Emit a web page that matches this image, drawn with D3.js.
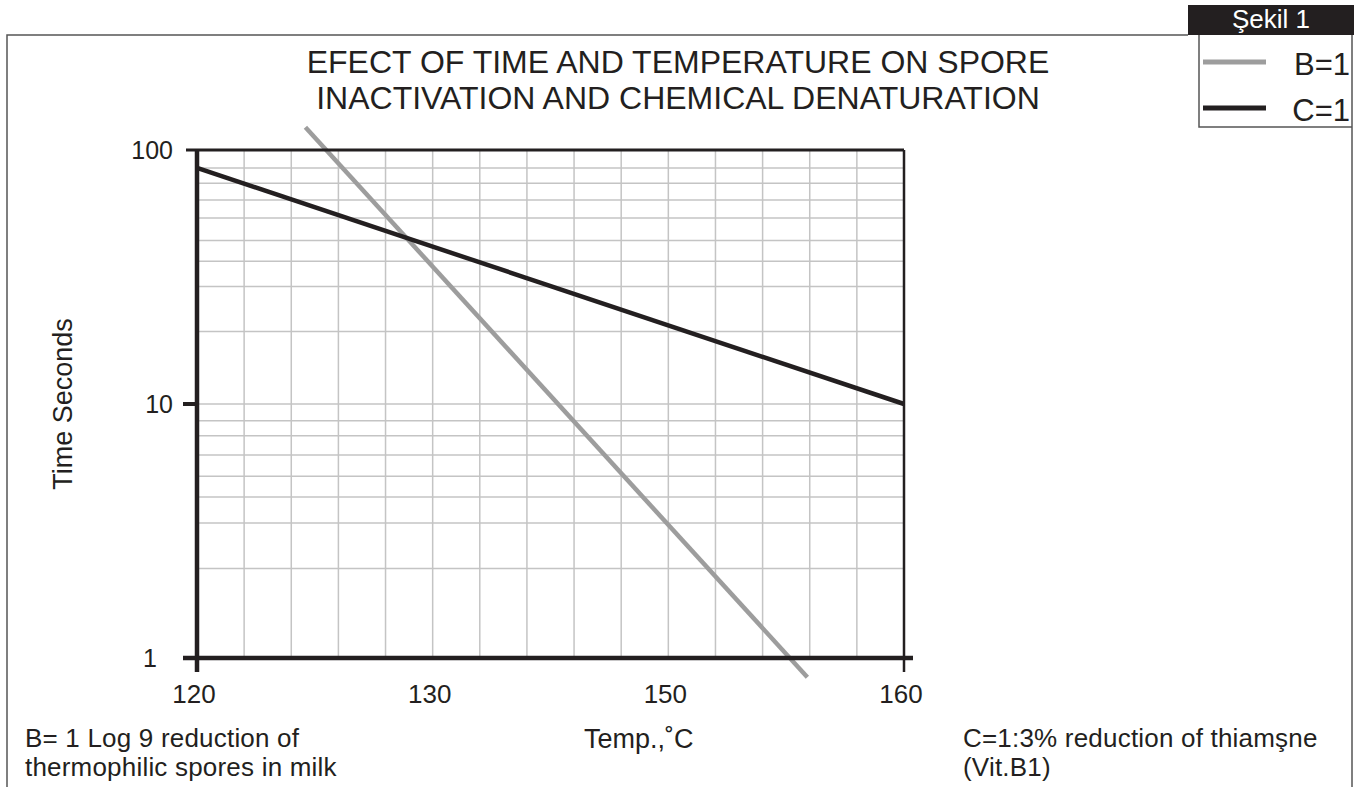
<!DOCTYPE html>
<html>
<head>
<meta charset="utf-8">
<script src="https://cdn.jsdelivr.net/npm/d3@7"></script>
<style>
  body { margin: 0; background: #fff; }
  text { font-family: "Liberation Sans", Arial, sans-serif; fill: #231f20; }
</style>
</head>
<body>
<div id="container"></div>
<script>
// data
const xTicks = [120, 130, 150, 160];
const yTicks = [1, 10, 100];
// the printed grid is only roughly logarithmic, these are where its lines sit
const yGrid = [85, 74, 63.5, 54, 44, 36.5, 29, 19.3, 10, 8.6, 7.5, 6.3, 5.2, 4.3, 3.4, 2.25];
const seriesB = [[124.6, 123], [155.9, 0.84]];   // B=1, grey
const seriesC = [[120, 85], [160, 10]];          // C=1, black
const titleLines = ["EFECT OF TIME AND TEMPERATURE ON SPORE", "INACTIVATION AND CHEMICAL DENATURATION"];
const noteB = ["B= 1 Log 9 reduction of", "thermophilic spores in milk"];
const noteC = ["C=1:3% reduction of thiamşne", "(Vit.B1)"];

const width = 1362, height = 787;
const plotLeft = 197, plotRight = 904, plotTop = 150, plotBottom = 658;
const ink = "#231f20", grey = "#9d9d9d", grid = "#c4c4c4";

const svg = d3.select("#container").append("svg")
  .attr("width", width)
  .attr("height", height);

// the x axis is drawn in 15 equal cells, 5 between each labelled pair (130 -> 150 too)
const cell = (plotRight - plotLeft) / 15;
const x = d3.scaleLinear().domain(xTicks).range([plotLeft, plotLeft + 5 * cell, plotLeft + 10 * cell, plotRight]);
const y = d3.scaleLog().domain([1, 100]).range([plotBottom, plotTop]);

// frame
svg.append("path")
  .attr("d", "M7," + height + "V35H1188")
  .attr("fill", "none").attr("stroke", "#555").attr("stroke-width", 1.5);
svg.append("path")
  .attr("d", "M1199,35V127H1352M1352,35V" + height)
  .attr("fill", "none").attr("stroke", "#555").attr("stroke-width", 1.5);

// grid
svg.append("g").selectAll("line").data(yGrid).enter().append("line")
  .attr("x1", plotLeft).attr("x2", plotRight)
  .attr("y1", d => y(d)).attr("y2", d => y(d))
  .attr("stroke", grid).attr("stroke-width", 1.5);
svg.append("g").selectAll("line").data(d3.range(1, 15)).enter().append("line")
  .attr("x1", d => plotLeft + d * cell).attr("x2", d => plotLeft + d * cell)
  .attr("y1", plotTop).attr("y2", plotBottom)
  .attr("stroke", grid).attr("stroke-width", 1.5);

// lines
const line = d3.line().x(d => x(d[0])).y(d => y(d[1]));
svg.append("path").datum(seriesB).attr("d", line)
  .attr("fill", "none").attr("stroke", grey).attr("stroke-width", 4.5);
svg.append("path").datum(seriesC).attr("d", line)
  .attr("fill", "none").attr("stroke", ink).attr("stroke-width", 4.5);

// axes
svg.append("line").attr("x1", 186).attr("x2", plotRight).attr("y1", y(100)).attr("y2", y(100))
  .attr("stroke", ink).attr("stroke-width", 3);
svg.append("line").attr("x1", plotRight).attr("x2", plotRight).attr("y1", plotTop).attr("y2", 672)
  .attr("stroke", ink).attr("stroke-width", 2.5);
svg.append("line").attr("x1", 183).attr("x2", plotLeft).attr("y1", y(10)).attr("y2", y(10))
  .attr("stroke", ink).attr("stroke-width", 4);
svg.append("line").attr("x1", plotLeft).attr("x2", plotLeft).attr("y1", plotTop).attr("y2", 672)
  .attr("stroke", ink).attr("stroke-width", 4.5);
svg.append("line").attr("x1", 183).attr("x2", 913).attr("y1", plotBottom).attr("y2", plotBottom)
  .attr("stroke", ink).attr("stroke-width", 4.5);

svg.append("g").selectAll("text").data(yTicks).enter().append("text")
  .attr("x", d => d === 1 ? 157 : 173)
  .attr("y", d => y(d) + 9)
  .attr("text-anchor", "end")
  .attr("font-size", 25)
  .text(d => d);
svg.append("g").selectAll("text").data(xTicks).enter().append("text")
  .attr("x", d => x(d) - 3)
  .attr("y", 703)
  .attr("text-anchor", "middle")
  .attr("font-size", 26)
  .text(d => d);

// titles (one text element, two lines)
svg.append("text")
  .attr("text-anchor", "middle").attr("font-size", 32)
  .selectAll("tspan").data(titleLines).enter().append("tspan")
  .attr("x", 678).attr("y", (d, i) => 73 + i * 36)
  .text(d => d);

svg.append("text")
  .attr("transform", "translate(72,404) rotate(-90)")
  .attr("text-anchor", "middle").attr("font-size", 27)
  .text("Time Seconds");

svg.append("text")
  .attr("x", 584).attr("y", 748).attr("font-size", 27)
  .text("Temp.,˚C");

function note(lines, x0) {
  svg.append("text").attr("font-size", 26).attr("letter-spacing", 0.2)
    .selectAll("tspan").data(lines).enter().append("tspan")
    .attr("x", x0).attr("y", (d, i) => 746.5 + i * 29.5)
    .text(d => d);
}
note(noteB, 25);
note(noteC, 963);

// legend
svg.append("rect").attr("x", 1188).attr("y", 5).attr("width", 166).attr("height", 30)
  .attr("fill", ink);
svg.append("text").attr("x", 1271).attr("y", 28).attr("text-anchor", "middle")
  .attr("font-size", 26).style("fill", "#fff").text("Şekil 1");

const legend = [{ name: "B=1", color: grey }, { name: "C=1", color: ink }];
const lg = svg.append("g").selectAll("g").data(legend).enter().append("g")
  .attr("transform", (d, i) => "translate(0," + (62 + i * 46) + ")");
lg.append("line").attr("x1", 1203).attr("x2", 1266)
  .attr("stroke", d => d.color).attr("stroke-width", 5);
lg.append("text").attr("x", 1350).attr("y", 13).attr("text-anchor", "end")
  .attr("font-size", 31).text(d => d.name);
</script>
</body>
</html>
